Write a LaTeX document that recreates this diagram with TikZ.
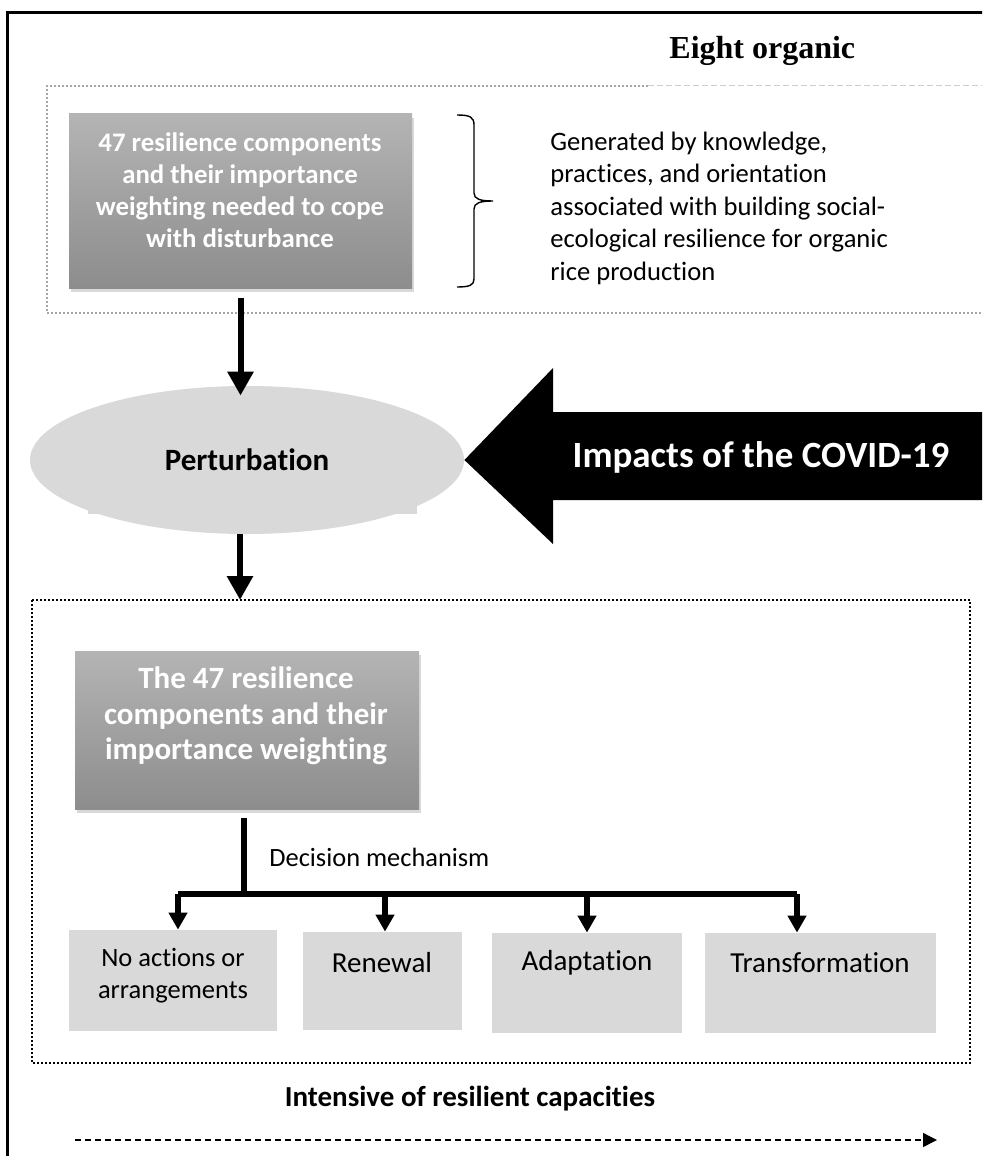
\documentclass[tikz,border=0pt]{standalone}
\usepackage{fontspec}
\setmainfont{Carlito}[Ligatures=NoCommon]
\newfontfamily\timesfont{Liberation Serif}
\usetikzlibrary{arrows.meta,positioning,shapes.geometric,shadows}
\definecolor{boxtop}{HTML}{B4B4B4}
\definecolor{boxbot}{HTML}{8D8D8D}
\definecolor{lightbox}{HTML}{D9D9D9}
\definecolor{dotgray}{HTML}{A6A6A6}
\definecolor{dashgray}{HTML}{CCCCCC}
\tikzset{
  compbox/.style={top color=boxtop,bottom color=boxbot,draw=none,inner sep=0pt,
                  drop shadow={shadow xshift=1pt,shadow yshift=-2pt,opacity=0.3}},
  comptext/.style={text=white,align=center,inner sep=0pt},
  optbox/.style={fill=lightbox,draw=none,inner sep=0pt},
  opttext/.style={align=center,inner sep=0pt,font=\fontsize{14.5}{16}\selectfont},
  flowarr/.style={-{Triangle[length=12pt,width=12.5pt]},line width=3pt},
  brancharr/.style={-{Triangle[length=8.5pt,width=9pt]},line width=3pt},
  dotframe/.style={draw=black,line width=1pt,dash pattern=on 1pt off 1pt}
}
\begin{document}
\begin{tikzpicture}[x=0.5pt,y=-0.5pt]
  \useasboundingbox (0,0) rectangle (982,1156);
  \clip (0,0) rectangle (982,1156);
  % frame
  \draw[line width=1.5pt] (7.5,1170) -- (7.5,13) -- (1000,13);
  % upper part
  \node[font=\timesfont\bfseries\fontsize{16}{19}\selectfont,anchor=base west,
        inner sep=0pt] (farms) at (669,59) {Eight organic};
  \draw[dotgray,line width=0.6pt,dash pattern=on 1pt off 1pt]
    (648,86) -- (47,86) -- (47,313) -- (1000,313);
  \draw[dashgray,line width=0.5pt,dash pattern=on 3pt off 1.5pt] (648,86) -- (1000,86);
  \node[compbox,minimum width=171.5pt,minimum height=87pt] (compbox1) at (240.5,201) {};
  \node[comptext,font=\bfseries\fontsize{13.4}{16}\selectfont] (comptext1) at (240,190)
    {47 resilience components\\and their importance\\weighting needed to cope\\with disturbance};
  \draw[line width=0.7pt] (457,115) .. controls (470,115) and (474,117) .. (474,125)
    -- (474,193) .. controls (474,199) and (480,201) .. (493,201)
    .. controls (480,201) and (474,203) .. (474,209)
    -- (474,279) .. controls (474,285) and (470,287) .. (457,287);
  \node[anchor=west,align=left,inner sep=0pt,font=\fontsize{13.3}{16.25}\selectfont]
    (gentext) at (550,208)
    {Generated by knowledge,\\practices, and orientation\\associated with building social-\\ecological resilience for organic\\rice production};
  % perturbation
  \fill[lightbox] (88,470) rectangle (417,514);
  \node[ellipse,fill=lightbox,minimum width=217pt,minimum height=74pt,inner sep=0pt,
        font=\bfseries\fontsize{15.5}{18}\selectfont] (pert) at (247,460) {Perturbation};
  \draw[flowarr] ([yshift=-5pt]compbox1.south) -- ([yshift=-5pt]compbox1.south |- pert.north);
  \fill[black] (pert.east) -- (553,368) -- (553,412) -- (1000,412) -- (1000,500)
    -- (553,500) -- (553,544) -- cycle;
  \node[text=white,inner sep=0pt,font=\bfseries\fontsize{18.5}{22}\selectfont]
    (covid) at (761,457) {Impacts of the COVID-19};
  \coordinate (lowtop) at (240,600);
  \draw[flowarr] (lowtop |- pert.south) -- (lowtop);
  % lower part
  \draw[dotframe] (32,600) rectangle (970,1063);
  \node[compbox,minimum width=172pt,minimum height=79pt] (compbox2) at (247,730) {};
  \node[comptext,font=\bfseries\fontsize{15.5}{17.8}\selectfont] (comptext2) at (246,716)
    {The 47 resilience\\components and their\\importance weighting};
  \coordinate (split) at (244,894);
  \draw[line width=3pt] ([yshift=-4.5pt]compbox2.south -| split) -- (split);
  \node[anchor=west,inner sep=0pt,font=\fontsize{13.2}{16}\selectfont]
    (decision) at (269,857) {Decision mechanism};
  \node[optbox,minimum width=104pt,minimum height=50.5pt] (opt1) at (173,980.5) {};
  \node[optbox,minimum width=79.5pt,minimum height=49pt] (opt2) at (382.5,981) {};
  \node[optbox,minimum width=95pt,minimum height=50pt] (opt3) at (587,983) {};
  \node[optbox,minimum width=115.5pt,minimum height=50pt] (opt4) at (820.5,983) {};
  \draw[line width=3pt] (178,894) -- (797,894);
  \foreach \xx/\bx in {178/opt1,385/opt2,587/opt3,797/opt4}
    \draw[brancharr] (\xx,894) -- (\xx,0 |- \bx.north);
  \node[opttext,font=\fontsize{13.25}{16}\selectfont] (opttext1) at (173,976)
    {No actions or\\arrangements};
  \node[opttext] (opttext2) at (382,963) {Renewal};
  \node[opttext] (opttext3) at (587,963) {Adaptation};
  \node[opttext] (opttext4) at (820,963) {Transformation};
  % capacity axis
  \node[inner sep=0pt,font=\bfseries\fontsize{14.5}{17}\selectfont]
    (intensive) at (470,1099) {Intensive of resilient capacities};
  \coordinate (capstart) at (75,1140);
  \coordinate (capend) at (937,1140);
  \draw[-{Triangle[length=7pt,width=7pt]},line width=0.7pt,dash pattern=on 3pt off 2pt]
    (capstart) -- (capend);
\end{tikzpicture}
\end{document}
